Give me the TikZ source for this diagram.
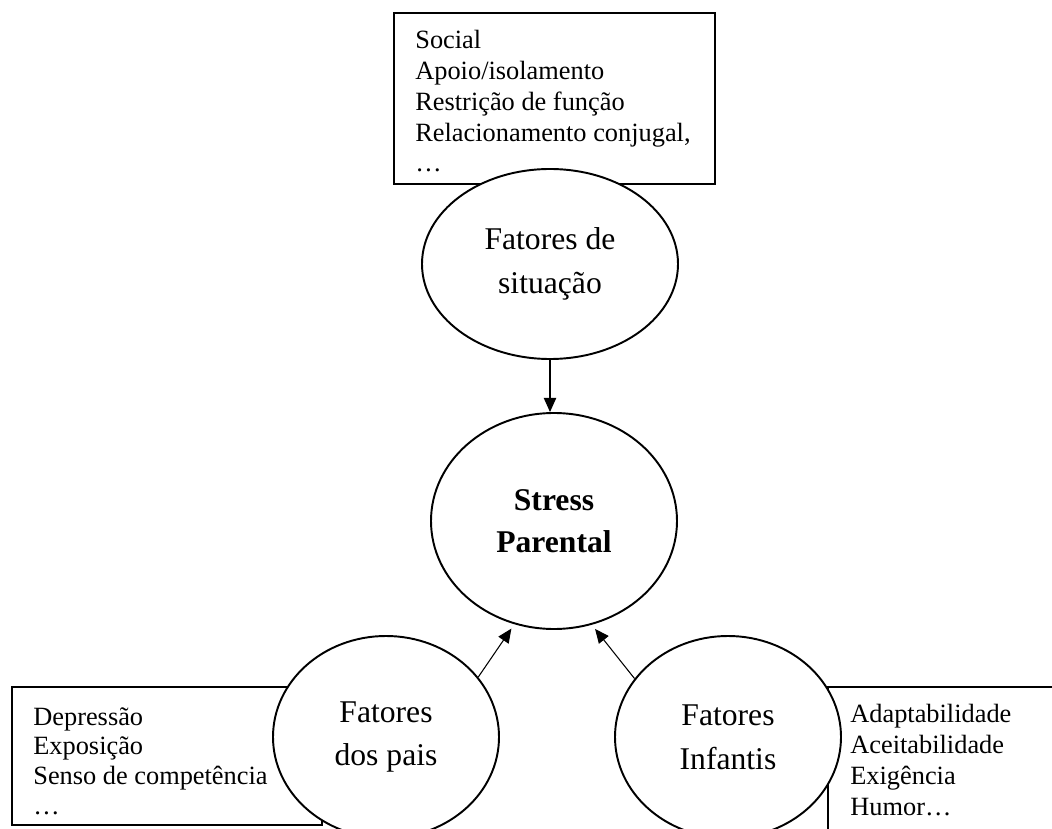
\documentclass[tikz,border=0pt]{standalone}
\usepackage{fontspec}
\setmainfont{Liberation Serif}
\usepackage{xcolor}
\usepackage{tikz}
\usetikzlibrary{shapes.geometric,arrows.meta}

\begin{document}
\begin{tikzpicture}[
	fator/.style={ellipse, draw, line width=1.1pt, fill=white, inner sep=0pt, align=center, font=\fontsize{18}{25}\selectfont},
	caixa/.style={draw, line width=1.3pt},
	lista/.style={anchor=base west, align=left, inner sep=0pt, font=\fontsize{15}{17.6}\selectfont},
	seta/.style={-{Triangle[length=8pt,width=7pt]}, line width=0.6pt}
	]
	
	    \useasboundingbox (0,0) rectangle (21.04,16.56);
	    \clip (0,0) rectangle (21.04,16.56);
	
	    \draw[caixa] (7.88,12.88) rectangle (14.30,16.30);
	    \draw[caixa] (0.24,0.06) rectangle (6.44,2.82);
	    \draw[caixa] (16.56,-0.5) rectangle (21.6,2.82);
	
	    \node[lista] (social) at (8.3,13.12) {Social\\Apoio/isolamento\\Restrição de função\\Relacionamento conjugal,\\…};
	    \node[lista, font=\fontsize{15}{16.8}\selectfont] (depressao) at (0.66,0.28) {Depressão\\Exposição\\Senso de competência\\…};
	    \node[lista] (adaptab) at (17.0,0.26) {Adaptabilidade\\Aceitabilidade\\Exigência\\Humor…};
	
	    \node[fator, minimum width=5.12cm, minimum height=3.8cm] (situacao) at (11.0,11.28) {Fatores de\\situação};
	    \node[fator, minimum width=4.92cm, minimum height=4.32cm, font=\fontsize{18}{24}\selectfont\bfseries] (stress) at (11.08,6.14) {Stress\\Parental};
	    \node[fator, minimum width=4.52cm, minimum height=4.04cm] (pais) at (7.72,1.82) {Fatores\\dos pais};
	    \node[fator, minimum width=4.52cm, minimum height=4.04cm] (infantis) at (14.56,1.82) {Fatores\\Infantis};
	
	    \draw[seta] (situacao.south) -- (situacao.south |- stress.north);
	    \draw[seta, shorten >=3pt] (pais.33) -- (stress.249);
	    \draw[seta, shorten >=3pt] (infantis.148) -- (stress.290);
	
	\end{tikzpicture}
\end{document}
